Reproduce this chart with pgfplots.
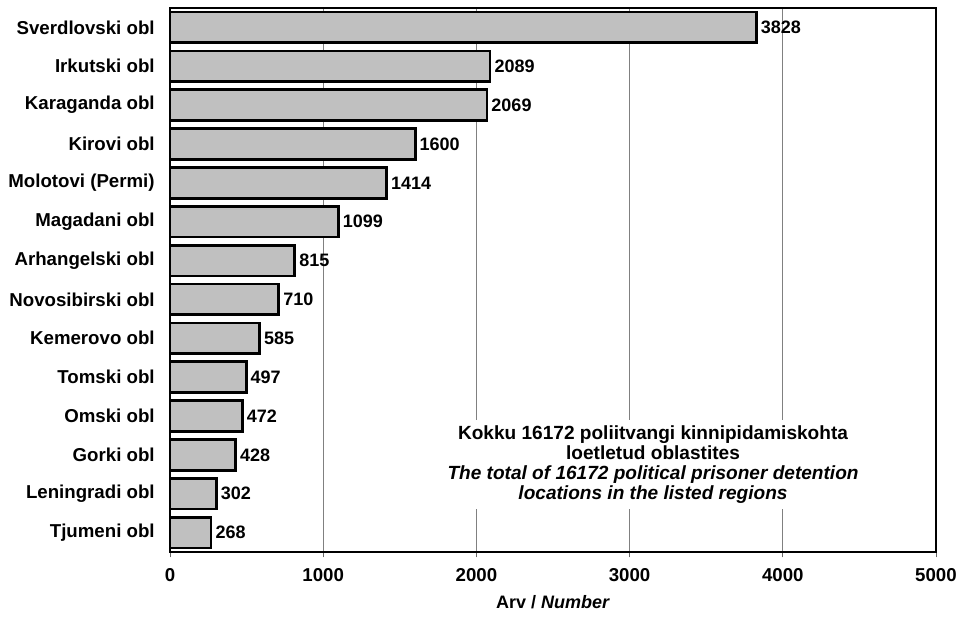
\documentclass[border=0pt]{standalone}
\usepackage{pgfplots}
\pgfplotsset{compat=1.18}
\usepackage{fontspec}
\setmainfont{Liberation Sans}
\begin{document}
\begin{tikzpicture}[x=0.75pt,y=0.75pt]
\useasboundingbox (-170,-68) rectangle (797,552);
\begin{axis}[
  at={(0,0)}, anchor=south west,
  scale only axis,
  width=574.5pt, height=408pt,
  xbar, bar width=23pt,
  xmin=0, xmax=5000,
  ymin=-0.5, ymax=13.5,
  y dir=reverse,
  xtick={0,1000,2000,3000,4000,5000},
  ytick={0,...,13},
  yticklabels={Sverdlovski obl,Irkutski obl,Karaganda obl,Kirovi obl,Molotovi (Permi),Magadani obl,Arhangelski obl,Novosibirski obl,Kemerovo obl,Tomski obl,Omski obl,Gorki obl,Leningradi obl,Tjumeni obl},
  ytick style={draw=none},
  xtick style={gray!80!black, line width=0.6pt},
  tick align=outside,
  major tick length=4pt,
  xtick pos=bottom,
  xmajorgrids,
  major grid style={gray, line width=0.6pt},
  axis line style={black, line width=1.2pt},
  /pgf/number format/assume math mode=true,
  /pgf/number format/1000 sep={},
  ticklabel style={font=\bfseries\fontsize{14}{16}\selectfont},
  yticklabel style={xshift=-4pt},
  xticklabel style={yshift=-5pt},
  xlabel={\bfseries Arv / \textit{Number}},
  xlabel style={font=\fontsize{13.5}{15}\selectfont, yshift=-3pt},
  nodes near coords,
  nodes near coords style={font=\bfseries\fontsize{13.5}{15}\selectfont, anchor=west, xshift=-1pt, /pgf/number format/1000 sep={}},
  clip=false,
]
\addplot[fill={rgb,255:red,192;green,192;blue,192}, draw=black, line width=2.1pt] coordinates {
(3828,0) (2089,1) (2069,2) (1600,3) (1414,4) (1099,5) (815,6) (710,7) (585,8) (497,9) (472,10) (428,11) (302,12) (268,13)
};
\node[fill=white, align=center, font=\bfseries\fontsize{14.3}{15}\selectfont, inner sep=4pt] at (axis cs:3153,11.25)
 {Kokku 16172 poliitvangi kinnipidamiskohta\\loetletud oblastites\\\textit{The total of 16172 political prisoner detention}\\\textit{locations in the listed regions}};
\end{axis}
\end{tikzpicture}
\end{document}
